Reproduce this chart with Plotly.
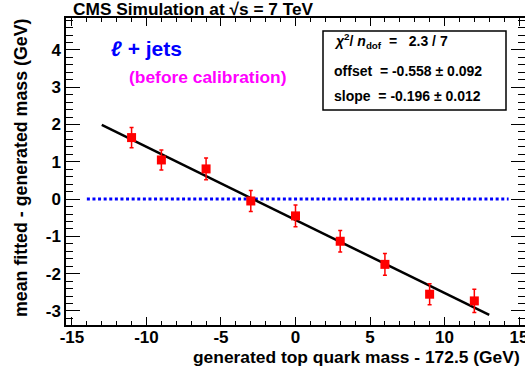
import plotly.graph_objects as go

# ---- data ----
mass_shift = [-11, -9, -6, -3, 0, 3, 6, 9, 12]
mean_bias = [1.65, 1.05, 0.81, -0.05, -0.45, -1.13, -1.75, -2.55, -2.73]
bias_err = [0.27, 0.27, 0.29, 0.28, 0.29, 0.29, 0.29, 0.28, 0.31]

fit_offset = -0.558
fit_slope = -0.196
fit_x = [-13, 13]
fit_y = [fit_offset + fit_slope * v for v in fit_x]

zero_x = [-14, 14.3]
zero_y = [0, 0]

x_tick_vals = [-15, -10, -5, 0, 5, 10, 15]
x_tick_text = ["-15", "-10", "-5", "0", "5", "10", "15"]
y_tick_vals = [-3, -2, -1, 0, 1, 2, 3, 4]
y_tick_text = ["-3", "-2", "-1", "0", "1", "2", "3", "4"]

W, H = 525, 374
ML, MR, MT, MB = 66, 0, 18, 49
PW, PH = W - ML - MR, H - MT - MB


def px(x):
    return (x - ML) / PW


def py(y):
    return 1 - (y - MT) / PH


FONT = "Liberation Sans"

fig = go.Figure()

fig.add_trace(go.Scatter(
    x=zero_x, y=zero_y, mode="lines",
    line=dict(color="#0000ff", width=3, dash="3px,2.6px"),
    hoverinfo="skip", showlegend=False))

fig.add_trace(go.Scatter(
    x=fit_x, y=fit_y, mode="lines",
    line=dict(color="black", width=2.5),
    showlegend=False))

fig.add_trace(go.Scatter(
    x=mass_shift, y=mean_bias, mode="markers",
    marker=dict(symbol="square", size=9, color="#ff0000"),
    error_y=dict(type="data", array=bias_err, color="#ff0000",
                 thickness=1.5, width=2),
    showlegend=False))

axis_common = dict(
    showline=True, linecolor="black", linewidth=1.5, mirror="allticks",
    ticks="inside", tickcolor="black", showgrid=False, zeroline=False,
    automargin=False, ticklabeloverflow="allow",
    tickfont=dict(family=FONT, size=17, color="black", weight="bold"),
)

fig.update_xaxes(range=[-15.4, 15.4], tickmode="array",
                 tickvals=x_tick_vals, ticktext=x_tick_text, ticklen=8,
                 ticklabelstandoff=-4,
                 minor=dict(dtick=1, tick0=0, ticklen=4, ticks="inside",
                            tickcolor="black", showgrid=False),
                 **axis_common)
fig.update_yaxes(range=[-3.376, 4.857], tickmode="array",
                 tickvals=y_tick_vals, ticktext=y_tick_text, ticklen=14,
                 minor=dict(dtick=0.2, tick0=0, ticklen=7, ticks="inside",
                            tickcolor="black", showgrid=False),
                 **axis_common)


def text_ann(txt, x, y, size, color="black", xanchor="left", angle=0,
             yanchor="middle"):
    return dict(text="<b>" + txt + "</b>", x=px(x), y=py(y),
                xref="paper", yref="paper", xanchor=xanchor, yanchor=yanchor,
                align=xanchor if xanchor != "center" else "center",
                textangle=angle, showarrow=False, borderpad=0,
                font=dict(family=FONT, size=size, color=color))


ann = [
    text_ann("generated top quark mass - 172.5 (GeV)", 521, 357, 17.4,
             xanchor="right"),
    text_ann("mean fitted - generated mass (GeV)", 21, 18, 17.8,
             xanchor="center", angle=-90, yanchor="top"),
    text_ann("CMS Simulation at √s = 7 TeV", 72, 9.5, 17.3),
    text_ann("<i>ℓ</i> + jets", 110, 48, 21, color="#0000ff"),
    text_ann("(before calibration)", 128, 77, 17.4, color="#ff00ff"),
    text_ann("<i>χ</i><sup>2</sup>/ <i>n</i><sub>dof</sub>  =   2.3 / 7",
             333, 41, 14),
    text_ann("offset  = -0.558 ± 0.092", 333, 71, 14),
    text_ann("slope  = -0.196 ± 0.012", 333, 96, 14),
]

fig.update_layout(
    width=W, height=H,
    margin=dict(l=ML, r=MR, t=MT, b=MB),
    paper_bgcolor="white", plot_bgcolor="white",
    annotations=ann,
    shapes=[dict(type="rect", xref="paper", yref="paper",
                 x0=px(323), x1=px(506), y0=py(31), y1=py(110),
                 line=dict(color="black", width=1.5), fillcolor="white",
                 layer="above")],
)

fig.write_html(
    "out.html",
    config=dict(displayModeBar=False),
    post_script="document.body.style.margin='0';"
                "document.body.style.overflow='hidden';",
)
